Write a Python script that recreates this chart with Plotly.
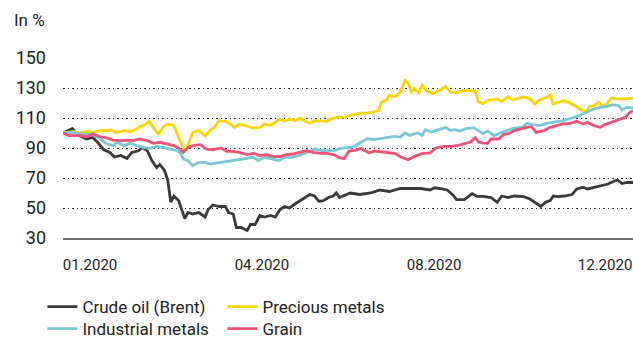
import plotly.graph_objects as go

# x values are day offsets within 2020 (0 = start of January)
crude_day = [0,6,8,11,15,19,22,26,30,33,37,41,44,48,51,54,57,60,62,65,67,69,71,74,76,78,80,83,87,91,93,96,100,104,106,109,111,114,118,120,123,126,129,133,136,139,142,145,149,152,155,158,161,164,167,170,173,175,177,184,190,197,203,209,216,222,229,235,238,241,246,250,252,257,262,265,269,274,278,281,285,289,295,299,302,306,309,312,314,317,321,326,329,333,336,341,345,349,353,355,358,361,365]
crude_val = [100,103,100.4,98,96,97,94,89,87,84,85,83,87,88,90.4,88,81.5,77,79,75,69,54,58,55,49,43,47,46,47,44,49,52,51,51,47,46,37,37,35,39,39,45,44,45,44,49,51,50,53,55,57,59,58,54.4,55,57,58,60,57,60,59,60,62,61,63,63,63,62,63.5,63,62,58.4,55.6,55.6,59.6,57.8,57.8,57,53.8,58,57,58,57.6,56,53.8,51,53.8,55,58,57.6,58,59,62.7,63.8,62.7,64,65,66,68,68.7,66.4,67,67]

precious_day = [0,7,11,15,19,24,28,31,34,39,43,46,49,53,55,58,61,64,66,70,72,74,77,78,80,83,87,91,94,97,100,104,107,110,113,117,122,126,129,133,136,139,142,145,149,152,155,158,161,165,169,173,177,181,184,190,195,199,202,204,207,209,213,216,219,221,223,225,228,230,233,237,241,245,248,252,256,261,264,266,269,272,278,281,285,288,295,299,302,305,310,312,314,317,321,326,329,332,335,337,340,343,345,348,351,355,359,365]
precious_val = [100,101,100,101,100.4,101.6,101.6,102,100.4,101.6,101,102,104,106,107.8,103.8,99.3,103.8,105.6,105.6,102.7,97,90.4,88,91.6,100.4,101.6,98,101.6,103.8,108.2,107.8,106,103.8,106,105,103.3,103.8,106,105,107,109.3,107.8,109.3,108.2,110,107.8,106.4,108.2,107.8,107.8,110,110.7,110.4,111.8,113.3,113.3,114,115,120.7,122,125,124.4,127.3,135,133,127.3,129.6,126.7,131.8,128,126.2,128.9,131,127.3,126.7,128.4,128,128,120.7,119.6,121.8,122.7,121,124.2,122,124.2,122.7,119.3,122,123.8,125.6,119.3,120.4,121.6,119.3,117,115.3,113.8,117.6,118.2,120.4,118.2,118.9,123.3,122.7,122.7,123.3]

industrial_day = [0,7,13,19,24,28,32,35,39,43,47,51,56,60,64,69,73,75,77,80,83,87,91,94,101,107,112,118,122,125,129,134,138,142,146,151,155,158,161,166,170,174,177,182,186,190,195,199,203,207,212,216,219,222,227,230,232,236,240,245,248,251,254,258,263,266,269,272,276,281,285,289,294,297,301,305,310,315,320,326,331,335,340,344,348,352,356,358,361,365]
industrial_val = [100,100.4,99,99,96,92.7,91.6,93.8,91.6,93.1,91.6,90.4,89.8,91,90.4,89.3,88.2,87,82.7,81.6,78.2,80.4,80.4,79.3,80.4,81,82,82.7,83.8,81.6,83.8,82.7,81.6,83.6,83.8,84.9,86.4,87.8,89.3,88.2,88.2,88.2,89.6,90.2,90.7,93.3,96.2,95.6,96.2,96.9,97.8,97.3,100,98.4,100,98.4,102.2,100.7,101.8,103.6,101.8,102.2,101.3,102.9,103.6,101.8,99.6,101.3,98.2,100.4,102,103.3,103.8,106.4,105.6,104.9,106.4,107.1,108.2,110,111.6,113.8,116,117.1,117.6,118.9,118.2,115.3,117.1,116.7]

grain_day = [0,4,11,15,19,24,28,32,37,41,45,49,54,58,62,66,71,75,77,80,83,88,92,96,101,105,109,113,118,122,126,130,135,139,143,147,152,156,160,165,169,173,177,180,183,187,191,196,200,204,208,213,217,221,225,230,235,239,244,249,253,257,261,264,266,269,272,274,279,282,286,289,294,297,300,303,308,312,316,320,325,329,333,336,340,344,347,351,356,360,363,365]
grain_val = [100,98.2,98.2,97.5,99.3,97.5,96.7,95.3,94.9,95.3,94.9,96,94.9,93.1,93.8,92.7,91.6,89.3,87.1,90.4,91.6,92.2,89.3,88.7,90,87.8,87.8,87.1,85.6,86.4,84.9,85.6,84.2,84.2,85.6,86,87.1,88.2,87.1,86.4,86.4,85.6,83.6,82.9,88,88.4,89.6,86.7,88,87.3,86.7,86.2,83.6,82.2,84.4,86.2,86.7,90.2,91.1,91.1,91.8,92.9,94,96.9,94,93.3,93.1,96,96,98.9,99.8,101.6,103.1,103.8,104.2,100.4,101.6,103.8,104.9,106,106.4,107.8,106,107.1,104.9,103.8,105.6,107.1,109.3,110.4,113.8,114.9]

x_tick_pos = [17.3, 127.4, 237.6, 347.1]
x_tick_text = ["01.2020", "04.2020", "08.2020", "12.2020"]
y_ticks = [30, 50, 70, 90, 110, 130, 150]

FONT = "Roboto"
fig = go.Figure()
series = [
    ("Crude oil (Brent)", crude_day, crude_val, "#3a3a3a", "legend"),
    ("Precious metals", precious_day, precious_val, "#FFD400", "legend"),
    ("Industrial metals", industrial_day, industrial_val, "#78C8D8", "legend2"),
    ("Grain", grain_day, grain_val, "#EF5276", "legend2"),
]
for name, xs, ys, col, lg in series:
    fig.add_trace(go.Scatter(x=xs, y=ys, name=name, mode="lines",
                             line=dict(color=col, width=2.8), legend=lg))

legend_common = dict(orientation="h", xanchor="left", yanchor="middle",
                     xref="container", yref="container",
                     font=dict(family=FONT, size=17, color="#222222"),
                     bgcolor="rgba(0,0,0,0)", entrywidth=135, itemwidth=30,
                     tracegroupgap=0)
fig.update_layout(
    width=633, height=340,
    margin=dict(l=63, r=0, t=58, b=101.5, autoexpand=False),
    paper_bgcolor="white", plot_bgcolor="white",
    font=dict(family=FONT, color="#222222"),
    legend=dict(x=0.067, y=1 - 307 / 340, **legend_common),
    legend2=dict(x=0.067, y=1 - 329 / 340, **legend_common),
    xaxis=dict(range=[0, 365], tickvals=x_tick_pos, ticktext=x_tick_text,
               showgrid=False, zeroline=False, showline=True,
               linecolor="#6b6b6b", linewidth=2, ticks="",
               tickfont=dict(family=FONT, size=15, color="#222222"),
               ticklabelstandoff=12),
    yaxis=dict(range=[30, 150], tickvals=y_ticks, showgrid=True,
               gridcolor="#333333", griddash="1.5px,3px", gridwidth=1.3,
               zeroline=False, showline=False, ticks="",
               tickfont=dict(family=FONT, size=18, color="#222222"),
               ticklabelstandoff=16),
    annotations=[dict(text="In %", xref="paper", yref="paper",
                      x=-0.09, y=(238.5 - 20) / 180.5, xanchor="left",
                      yanchor="middle", showarrow=False,
                      font=dict(family=FONT, size=17, color="#222222"))],
)
fig.write_html("out.html")
